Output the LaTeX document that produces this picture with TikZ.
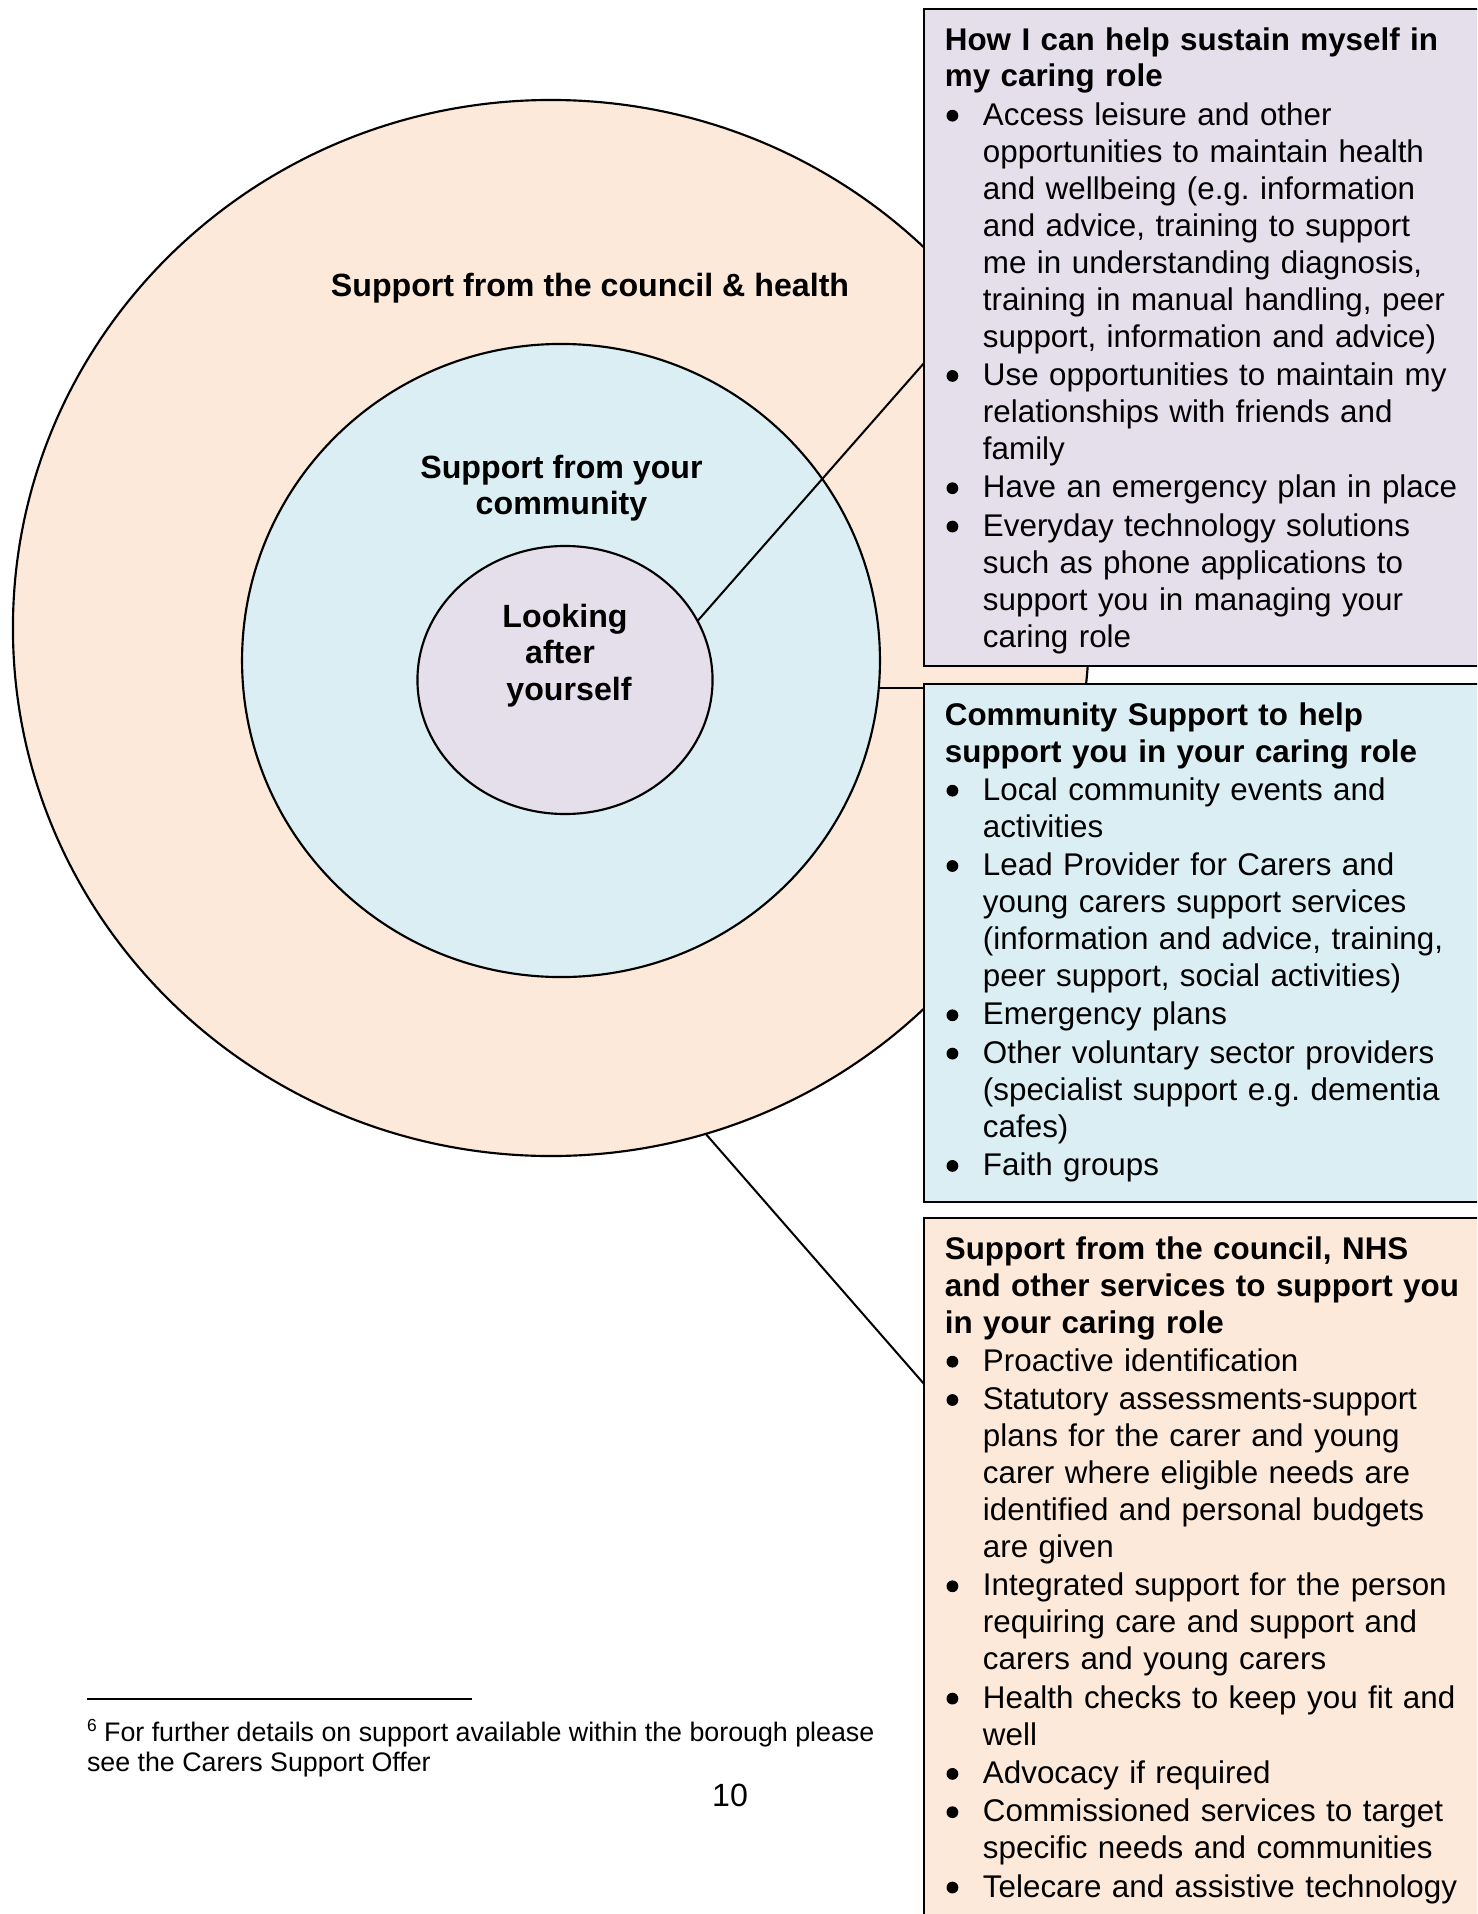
\documentclass[tikz,border=0pt]{standalone}
\usepackage{fontspec}
\setmainfont{Liberation Sans}
\usetikzlibrary{shapes.geometric,calc}
\definecolor{peach}{HTML}{FDE9D9}
\definecolor{aqua}{HTML}{DAEEF3}
\definecolor{lilac}{HTML}{E5DFEC}
\newcommand{\bdot}{\makebox[14.2pt][l]{\hspace{0.6pt}\tikz[baseline=0pt]\fill (2.2pt,3.6pt) circle[radius=2.2pt];}}
\newcommand{\bitem}[1]{\par\hangindent=14.2pt\hangafter=1\noindent\bdot#1}
\newcommand{\nl}{\newline}
\tikzset{
  ring/.style={ellipse, draw=black, line width=0.8pt, inner sep=0pt, outer sep=0pt},
  lbl/.style={anchor=base, inner sep=0pt, font=\bfseries\fontsize{12pt}{13.8pt}\selectfont},
  panel/.style={draw=black, line width=0.9pt, anchor=north west, inner sep=0pt, outer sep=0pt, minimum width=215pt},
  boxtext/.style={anchor=north west, inner xsep=7.8pt, inner ysep=5.3pt, outer sep=0pt, text width=200pt, align=left,
    font=\fontsize{11.7pt}{13.8pt}\selectfont\frenchspacing},
  conn/.style={draw=black, line width=0.75pt},
  plain/.style={inner sep=0pt, outer sep=0pt}
}
\begin{document}
\begin{tikzpicture}[x=0.3731pt, y=-0.3731pt]
\useasboundingbox (0,0) rectangle (1477,1914);
\clip (0,0) rectangle (1477,1914);
\fill[white] (0,0) rectangle (1477,1914);
% circles
\node[ring, fill=peach, minimum width=401.5pt, minimum height=394pt] (outer) at (551,628) {};
\node[ring, fill=aqua, minimum width=238pt, minimum height=236.2pt] (mid) at (561,660.5) {};
\node[ring, fill=lilac, minimum width=110.1pt, minimum height=100pt] (inner) at (565,680) {};
% circle labels
\node[lbl] (l1) at (590,296) {Support from the council \& health};
\node[lbl] (l2) at (561.5,478) {Support from your};
\node[lbl] (l3) at (561.5,514.5) {community};
\node[lbl] (l4) at (565,627) {Looking};
\node[lbl] (l5) at (560,663) {after};
\node[lbl] (l6) at (569,700) {yourself};
% panels
\node[panel, fill=lilac, minimum height=245.1pt] (pbox) at (924,9) {};
\node[panel, fill=aqua, minimum height=193.3pt] (bbox) at (924,684) {};
\node[panel, fill=peach, minimum height=270pt] (obox) at (924,1218) {};
% panel texts
\node[boxtext] (ptext) at (pbox.north west) {\setlength{\parskip}{0.5pt}%
{\bfseries\rule{0pt}{10pt}How I can help sustain myself in\\my caring role}
\bitem{Access leisure and other\nl opportunities to maintain health\nl and wellbeing (e.g. information\nl and advice, training to support\nl me in understanding diagnosis,\nl training in manual handling, peer\nl support, information and advice)}
\bitem{Use opportunities to maintain my\nl relationships with friends and\nl family}
\bitem{Have an emergency plan in place}
\bitem{Everyday technology solutions\nl such as phone applications to\nl support you in managing your\nl caring role}\par};
\node[boxtext] (btext) at (bbox.north west) {\setlength{\parskip}{0.5pt}%
{\bfseries\rule{0pt}{10pt}Community Support to help\\support you in your caring role}
\bitem{Local community events and\nl activities}
\bitem{Lead Provider for Carers and\nl young carers support services\nl (information and advice, training,\nl peer support, social activities)}
\bitem{Emergency plans}
\bitem{Other voluntary sector providers\nl (specialist support e.g. dementia\nl cafes)}
\bitem{Faith groups}\par};
\node[boxtext] (otext) at (obox.north west) {\setlength{\parskip}{0.5pt}%
{\bfseries\rule{0pt}{10pt}Support from the council, NHS\\and other services to support you\\in your caring role}
\bitem{Proactive identification}
\bitem{Statutory assessments-support\nl plans for the carer and young\nl carer where eligible needs are\nl identified and personal budgets\nl are given}
\bitem{Integrated support for the person\nl requiring care and support and\nl carers and young carers}
\bitem{Health checks to keep you fit and\nl well}
\bitem{Advocacy if required}
\bitem{Commissioned services to target\nl specific needs and communities}
\bitem{Telecare and assistive technology}\par};
% connectors
\draw[conn] (inner.24) -- ([yshift=-132.1pt]pbox.north west);
\draw[conn] (mid.-5) -- (mid.-5 -| bbox.west);
\draw[conn] (outer.-73.25) -- ([yshift=-61.9pt]obox.north west);
% footnote
\draw[line width=0.6pt] (87,1699) -- (472,1699);
\node[plain, anchor=base west, font=\fontsize{10pt}{11.5pt}\selectfont] (fn1) at (87,1741)
  {\raisebox{3.6pt}{\fontsize{6.5pt}{7pt}\selectfont 6} For further details on support available within the borough please};
\node[plain, anchor=base west, font=\fontsize{10pt}{11.5pt}\selectfont] (fn2) at (87,1771) {see the Carers Support Offer};
\node[plain, anchor=base, font=\fontsize{12pt}{13.8pt}\selectfont] (pg) at (730,1806) {10};
\end{tikzpicture}
\end{document}
